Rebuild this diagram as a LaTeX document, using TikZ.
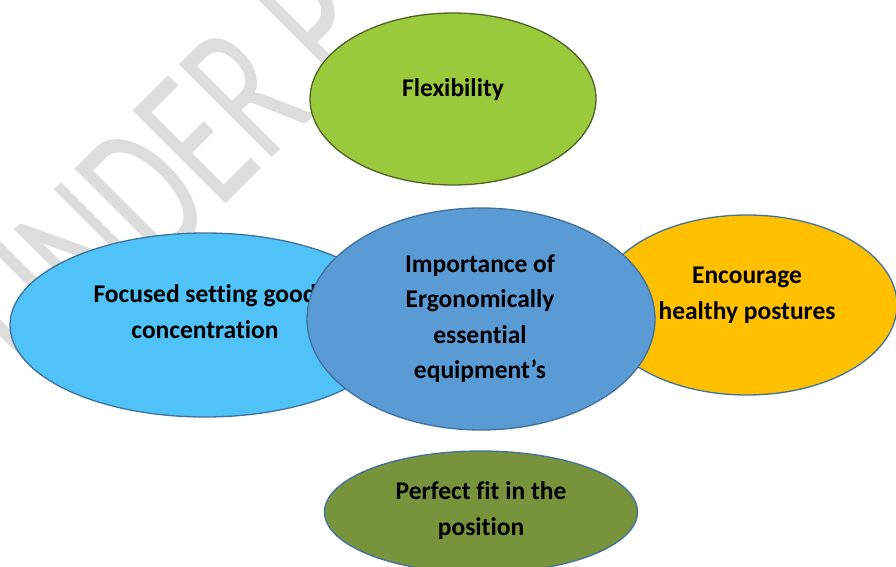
\documentclass[tikz,border=0pt]{standalone}
\usepackage{fontspec}
\setmainfont{Carlito}[Ligatures={NoCommon}]
\usetikzlibrary{shapes.geometric}
\definecolor{flexfill}{HTML}{9ACA3C}
\definecolor{flexline}{HTML}{4F6228}
\definecolor{focfill}{HTML}{4FC2F7}
\definecolor{cenfill}{HTML}{5B9BD5}
\definecolor{encfill}{HTML}{FFC000}
\definecolor{perffill}{HTML}{77933C}
\definecolor{blueline}{HTML}{41719C}
\definecolor{wmgray}{HTML}{DDDDDD}
\tikzset{
  oval/.style={ellipse, draw=blueline, line width=1.3pt, inner sep=0pt},
  lbl/.style={font=\fontsize{25.5}{36}\selectfont\bfseries, align=center, anchor=base, inner sep=0pt, text=black},
}
\begin{document}
\begin{tikzpicture}[x=1pt,y=-1pt]
\useasboundingbox (0,0) rectangle (896,567);
\begin{scope}
\clip (0,0) rectangle (896,567);
\node[anchor=base west, rotate=45, inner sep=0pt, text=wmgray, font=\fontsize{205}{205}\selectfont] (wm) at (40,390) {\scalebox{0.65}[1]{UNDER P}};
\node[oval, draw=flexline, fill=flexfill, minimum width=286pt, minimum height=172pt] (flex) at (453,99) {};
\node[oval, fill=focfill, minimum width=390pt, minimum height=184pt] (foc) at (205,325) {};
\node[oval, fill=encfill, minimum width=300pt, minimum height=180pt] (enc) at (747,305) {};
\node[oval, fill=perffill, minimum width=313pt, minimum height=122pt] (perf) at (481,512) {};
\node[lbl] (flext) at (453,97) {Flexibility};
\node[lbl] (foct) at (205,338) {Focused setting good\\concentration};
\node[lbl] (enct) at (747,319) {Encourage\\healthy postures};
\node[lbl] (perft) at (481,535) {Perfect fit in the\\position};
\node[oval, fill=cenfill, minimum width=348pt, minimum height=222pt] (cen) at (481,319) {};
\node[lbl, font=\fontsize{25.5}{35.5}\selectfont\bfseries] (cent) at (480,378.5) {Importance of\\Ergonomically\\essential\\equipment’s};
\end{scope}
\end{tikzpicture}
\end{document}
